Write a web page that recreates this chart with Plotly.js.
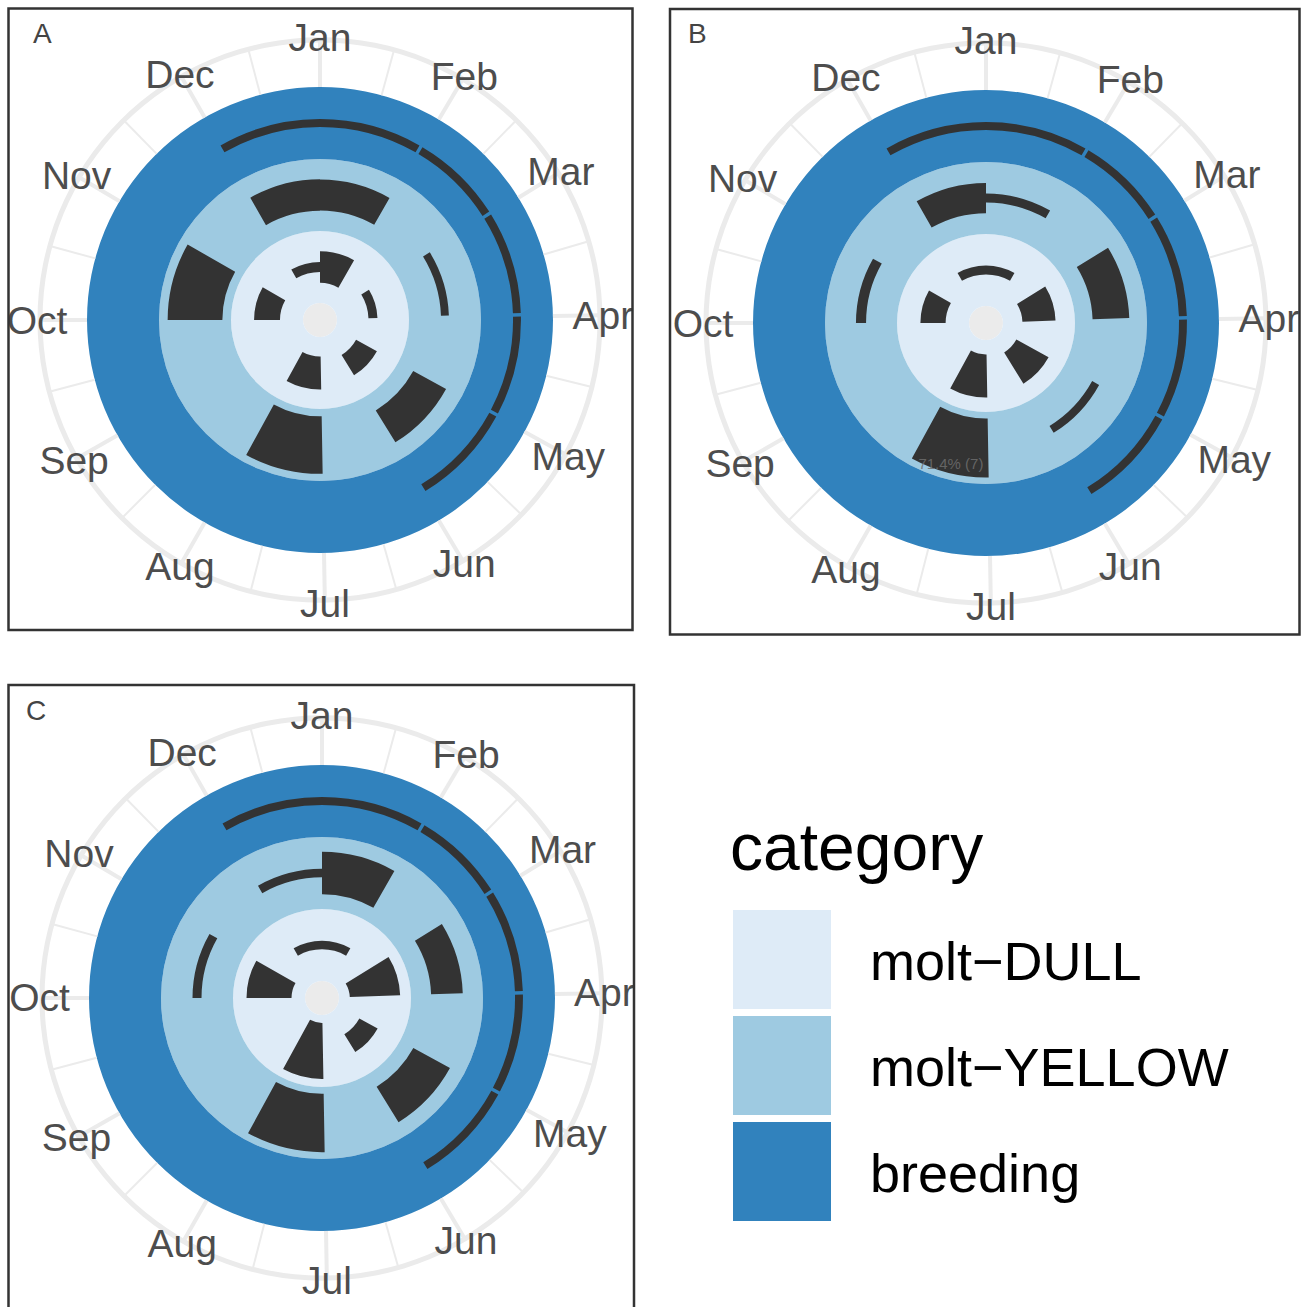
<!DOCTYPE html>
<html><head><meta charset="utf-8">
<script src="https://cdn.plot.ly/plotly-3.0.1.min.js"></script>
<style>html,body{margin:0;padding:0;background:#fff;} #chart{width:1308px;height:1307px;}</style>
</head><body><div id="chart"></div>
<script>
// ---------- data ----------
const months = ['Jan','Feb','Mar','Apr','May','Jun','Jul','Aug','Sep','Oct','Nov','Dec'];
const monthDays = [31,28,31,30,31,30,31,31,30,31,30,31];
const categories = ['molt\u2212DULL','molt\u2212YELLOW','breeding'];
const categoryColors = ['#deebf7','#9ecae1','#3182bd'];
const panelTags = ['A','B','C'];

// bar thickness as share of ring height, Jan..Dec (0 = no bar)
const A_dull   = [0.44,0,0.125,0,0.33,0,0.46,0,0,0.36,0,0.14];
const A_yellow = [0.43,0,0.11,0,0.52,0,0.80,0,0,0.76,0,0.44];
const A_breed  = [0.11,0.11,0.11,0.11,0.11,0,0,0,0,0,0,0.11];
const B_dull   = [0.125,0,0.46,0,0.51,0,0.60,0,0,0.35,0,0.125];
const B_yellow = [0.125,0,0.51,0,0.11,0,0.82,0,0,0.14,0,0.42];
const B_breed  = [0.11,0.11,0.11,0.11,0.11,0,0,0,0,0,0,0.11];
const C_dull   = [0.12,0,0.70,0,0.29,0,0.78,0,0,0.625,0,0.12];
const C_yellow = [0.59,0,0.44,0,0.58,0,0.81,0,0,0.125,0,0.12];
const C_breed  = [0.11,0.11,0.11,0.11,0.11,0,0,0,0,0,0,0.11];
const hoverNote = {panel:'B', ring:1, month:'Jul', text:'71.4% (7)'};

const panels = [
  {tag:'A', rings:[A_dull, A_yellow, A_breed]},
  {tag:'B', rings:[B_dull, B_yellow, B_breed]},
  {tag:'C', rings:[C_dull, C_yellow, C_breed]}
];

// ---------- scales ----------
const starts = []; let acc = 0;
monthDays.forEach(d => { starts.push(acc); acc += d; });
const yearSpan = acc - 1;              // Jan 1 .. Dec 31
const deg = d => d * 360 / yearSpan;
const monthAngles = starts.map(deg);
const minorAngles = starts.map((s,i) => (deg(s) + (i < 11 ? deg(starts[i+1]) : 360)) / 2);

const UNIT = 72;                       // px per ring
const HOLE = 0.236, GRID_R = 3.889, LABEL_R = 3.93, RANGE = 4.25;
const RING_OUT = HOLE + 3;
const RPX = RANGE * UNIT;
const LABEL_DROP = 4;                  // px, vertical centring of month labels

const W = 1308, H = 1307;
const px = x => x / W, py = y => 1 - y / H;
const layouts = [
  {cx:320, cy:320, frame:[8.5,8.5,632.5,630], tagPos:[42,33]},
  {cx:986, cy:323, frame:[670,9,1299.5,634.5], tagPos:[697,33]},
  {cx:322, cy:998, frame:[8.5,685,634,1312], tagPos:[36,710]}
];

const data = [];
const layout = {
  width:W, height:H, margin:{l:0,r:0,t:0,b:0}, showlegend:false,
  paper_bgcolor:'#fff', font:{family:'Liberation Sans, Arial, sans-serif'},
  shapes:[], annotations:[]
};

function spokes(angles) {
  const r = [], t = [];
  angles.forEach(a => { r.push(RING_OUT, GRID_R, null); t.push(a, a, null); });
  return {r, t};
}
function polarLayout(cx, cy) {
  return {
    domain:{x:[px(cx-RPX), px(cx+RPX)], y:[py(cy+RPX), py(cy-RPX)]},
    bgcolor:'rgba(0,0,0,0)', barmode:'overlay',
    radialaxis:{range:[0,RANGE], showgrid:false, showline:false, showticklabels:false, ticks:''},
    angularaxis:{rotation:90, direction:'clockwise', thetaunit:'degrees',
      showticklabels:false, ticks:'', showgrid:false, showline:false}
  };
}

panels.forEach((p, pi) => {
  const sub = pi === 0 ? 'polar' : 'polar' + (pi + 1);
  const lsub = 'polar' + (pi + 4);
  const L = layouts[pi];
  layout[sub] = polarLayout(L.cx, L.cy);
  layout[lsub] = polarLayout(L.cx, L.cy + LABEL_DROP);
  // outer grid circle
  data.push({type:'barpolar', subplot:sub, r:[0.07], base:[GRID_R-0.035], theta:[180], width:[360],
    marker:{color:'#ebebeb', line:{width:0}}, hoverinfo:'skip'});
  // centre dot
  data.push({type:'barpolar', subplot:sub, r:[HOLE], base:[0], theta:[180], width:[360],
    marker:{color:'#ebebeb', line:{width:0}}, hoverinfo:'skip'});
  // category rings
  data.push({type:'barpolar', subplot:sub, r:[1,1,1], base:[HOLE, HOLE+1, HOLE+2],
    theta:[180,180,180], width:[360,360,360],
    marker:{color:categoryColors, line:{width:0}}, hoverinfo:'skip'});
  // black month bars
  p.rings.forEach((vals, k) => {
    const th = [], wd = [], rr = [], bs = [];
    vals.forEach((v, m) => {
      if (!v) return;
      const a0 = deg(starts[m]), a1 = deg(starts[m] + monthDays[m] - 1);
      th.push((a0 + a1) / 2); wd.push(a1 - a0);
      rr.push(v); bs.push(HOLE + k + 0.5 - v / 2);
    });
    data.push({type:'barpolar', subplot:sub, r:rr, base:bs, theta:th, width:wd,
      marker:{color:'#333333', line:{width:0}}, name:categories[k]});
  });
  // spokes (minor, major)
  const mn = spokes(minorAngles), mj = spokes(monthAngles);
  data.push({type:'scatterpolar', subplot:sub, mode:'lines', r:mn.r, theta:mn.t,
    line:{color:'#ebebeb', width:2}, hoverinfo:'skip'});
  data.push({type:'scatterpolar', subplot:sub, mode:'lines', r:mj.r, theta:mj.t,
    line:{color:'#ebebeb', width:4}, hoverinfo:'skip'});
  if (hoverNote.panel === p.tag) {
    const m = months.indexOf(hoverNote.month);
    const a0 = deg(starts[m]), a1 = deg(starts[m] + monthDays[m] - 1);
    data.push({type:'scatterpolar', subplot:sub, mode:'text', r:[HOLE + hoverNote.ring + 0.8],
      theta:[(a0 + a1) / 2], text:[hoverNote.text],
      textfont:{size:15, color:'rgba(110,110,110,0.85)'}, hoverinfo:'skip'});
  }
  // month labels (own overlay subplot)
  data.push({type:'scatterpolar', subplot:lsub, mode:'text', r:months.map(() => LABEL_R),
    theta:monthAngles, text:months,
    textfont:{size:39, color:'#4d4d4d', family:'Liberation Sans, Arial, sans-serif'},
    textposition:'middle center', hoverinfo:'skip'});
  // frame + tag
  const f = L.frame;
  layout.shapes.push({type:'rect', xref:'paper', yref:'paper', layer:'above',
    x0:px(f[0]), x1:px(f[2]), y0:py(f[3]), y1:py(f[1]),
    line:{color:'#333333', width:2.5}, fillcolor:'rgba(0,0,0,0)'});
  layout.annotations.push({xref:'paper', yref:'paper', x:px(L.tagPos[0]), y:py(L.tagPos[1]),
    text:panelTags[pi], showarrow:false, xanchor:'center', yanchor:'middle',
    font:{size:28, color:'#444444'}});
});

// legend (drawn manually)
layout.annotations.push({xref:'paper', yref:'paper', x:px(728), y:py(847), text:'category',
  showarrow:false, xanchor:'left', yanchor:'middle', font:{size:66, color:'#000'}});
const keyTop = [910, 1016, 1122];
categories.forEach((c, i) => {
  layout.shapes.push({type:'rect', xref:'paper', yref:'paper', layer:'above',
    x0:px(733), x1:px(831), y0:py(keyTop[i] + 99), y1:py(keyTop[i]),
    line:{width:0}, fillcolor:categoryColors[i]});
  layout.annotations.push({xref:'paper', yref:'paper', x:px(868), y:py(keyTop[i] + 51),
    text:c, showarrow:false, xanchor:'left', yanchor:'middle', font:{size:54, color:'#000'}});
});

Plotly.newPlot('chart', data, layout, {staticPlot:true, displayModeBar:false});
</script></body></html>
